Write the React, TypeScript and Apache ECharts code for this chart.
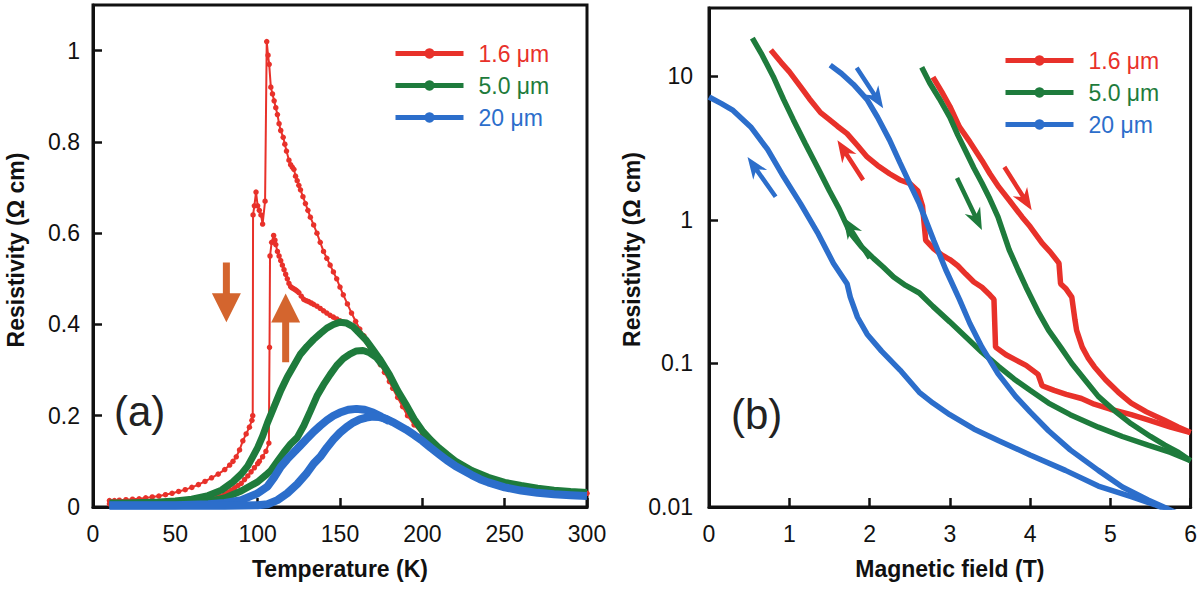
import React, { useEffect, useRef } from 'react';
import * as echarts from 'echarts';

const RED = '#e8312a';
const GREEN = '#1e7b3c';
const BLUE = '#2c6ecb';
const ORANGE = '#d4652e';
const FONT = '"Liberation Sans", Arial, Helvetica, sans-serif';

const NAMES = ['1.6 μm', '5.0 μm', '20 μm'];

// ---------- Panel (a): resistivity vs temperature ----------
const tRedCooling: number[][] = [
  [10, 0.014], [13, 0.014], [16, 0.015], [20, 0.016], [24, 0.017], [28, 0.018], [32, 0.02],
  [36, 0.022], [40, 0.024], [44, 0.027], [48, 0.03], [52, 0.034], [56, 0.038], [60, 0.043],
  [64, 0.049], [68, 0.056], [72, 0.064], [76, 0.072], [80, 0.082], [83, 0.092], [85, 0.1],
  [87, 0.11], [89, 0.125], [91, 0.145], [93, 0.16], [95, 0.175], [96.5, 0.19], [97, 0.2],
  [97.2, 0.64], [98, 0.66], [99, 0.69], [100, 0.66], [101, 0.65], [102, 0.64], [103, 0.62],
  [104.5, 0.67], [105.5, 1.02], [106.3, 0.99], [107, 0.97], [108, 0.92], [109, 0.905], [110, 0.89],
  [111, 0.875], [112, 0.86], [113, 0.84], [114, 0.825], [115.5, 0.81], [116.5, 0.795], [117.5, 0.78],
  [119, 0.76], [120, 0.75], [121, 0.745], [122, 0.74], [123, 0.725], [124, 0.715], [125, 0.705],
  [126, 0.695], [127.5, 0.68], [129, 0.665], [130.5, 0.65], [132, 0.635], [134, 0.618], [136, 0.6],
  [138, 0.58], [140, 0.56], [142, 0.545], [144, 0.53], [146, 0.515], [148, 0.5], [150, 0.482],
  [152, 0.465], [154.5, 0.445], [157, 0.425], [159.5, 0.407], [162, 0.39], [164.5, 0.375],
  [167, 0.36], [169.5, 0.345], [172, 0.33], [174.5, 0.312], [177, 0.295], [180, 0.275],
  [182, 0.26], [185, 0.24], [188, 0.22], [191, 0.2], [195, 0.18], [200, 0.16], [205, 0.14],
  [210, 0.122], [215, 0.105], [221, 0.088], [227, 0.074], [233, 0.064], [239, 0.055],
  [247, 0.048], [255, 0.043], [265, 0.038], [276, 0.034], [288, 0.032], [300, 0.03],
];
const tRedWarming: number[][] = [
  [10, 0.007], [15, 0.007], [20, 0.007], [25, 0.008], [30, 0.008], [35, 0.008], [40, 0.009],
  [45, 0.009], [50, 0.01], [55, 0.011], [60, 0.012], [63, 0.013], [66, 0.015], [69, 0.017],
  [72, 0.02], [75, 0.023], [77, 0.025], [80, 0.029], [82, 0.033], [84, 0.037], [86, 0.042],
  [88, 0.047], [90, 0.052], [92, 0.06], [94, 0.068], [96, 0.077], [98, 0.086], [100, 0.095],
  [101, 0.1], [103, 0.11], [105, 0.122], [106.8, 0.14], [107.2, 0.35], [107.5, 0.55],
  [108.5, 0.58], [109.7, 0.595], [110.5, 0.585], [111, 0.575], [112, 0.56], [113, 0.55],
  [114, 0.54], [115, 0.53], [116, 0.52], [117, 0.51], [118, 0.5], [119, 0.49], [120, 0.483],
  [121, 0.48], [122, 0.478], [123, 0.476], [124, 0.473], [125, 0.47], [126.5, 0.462], [128, 0.455],
  [129.5, 0.452], [131, 0.45], [132.5, 0.447], [134, 0.444], [136, 0.44], [138, 0.435],
  [140, 0.43], [142, 0.425], [144, 0.42], [146, 0.416], [148, 0.412], [150, 0.408], [152.5, 0.404],
  [155, 0.4], [157.5, 0.395], [160, 0.39], [162, 0.383], [164, 0.375], [166, 0.364], [168, 0.352],
  [170, 0.341], [172, 0.33],
];
const tGreenA: number[][] = [
  [10, 0.009], [20, 0.009], [30, 0.01], [40, 0.011], [50, 0.013], [60, 0.017], [70, 0.025],
  [78, 0.037], [85, 0.055], [90, 0.072], [94, 0.09], [97, 0.11], [100, 0.13], [103, 0.155],
  [106, 0.185], [110, 0.22], [114, 0.255], [118, 0.285], [122, 0.31], [126, 0.335], [130, 0.352],
  [134, 0.367], [138, 0.38], [142, 0.392], [146, 0.4], [150, 0.405], [154, 0.403], [158, 0.395],
  [162, 0.38], [166, 0.365], [170, 0.345], [174, 0.325], [180, 0.29], [185, 0.255], [190, 0.225],
  [195, 0.193], [200, 0.167], [205, 0.147], [210, 0.13], [215, 0.115], [220, 0.101], [230, 0.08],
  [240, 0.065], [250, 0.054], [260, 0.047], [270, 0.041], [280, 0.037], [290, 0.034], [300, 0.032],
];
const tGreenB: number[][] = [
  [10, 0.004], [30, 0.005], [50, 0.006], [60, 0.008], [70, 0.012], [80, 0.02], [90, 0.035],
  [100, 0.055], [105, 0.07], [108, 0.08], [112, 0.1], [116, 0.12], [120, 0.138], [124, 0.152],
  [128, 0.178], [132, 0.21], [136, 0.243], [140, 0.268], [144, 0.29], [148, 0.31], [152, 0.325],
  [156, 0.335], [160, 0.342], [164, 0.343], [168, 0.338], [172, 0.328], [176, 0.31],
];
const tBlueA: number[][] = [
  [10, 0.004], [30, 0.004], [50, 0.004], [70, 0.006], [80, 0.009], [90, 0.015], [100, 0.03],
  [106, 0.045], [110, 0.065], [114, 0.088], [118, 0.105], [122, 0.12], [126, 0.135], [130, 0.15],
  [134, 0.165], [138, 0.178], [142, 0.19], [146, 0.2], [150, 0.207], [155, 0.213], [160, 0.215],
  [165, 0.213], [170, 0.207], [175, 0.198], [180, 0.188],
];
const tBlueB: number[][] = [
  [10, 0.003], [50, 0.003], [80, 0.003], [100, 0.004], [106, 0.006], [112, 0.015], [118, 0.03],
  [124, 0.05], [130, 0.075], [134, 0.095], [138, 0.11], [142, 0.13], [146, 0.148], [150, 0.163],
  [154, 0.175], [158, 0.185], [162, 0.192], [166, 0.196], [170, 0.198], [174, 0.197], [178, 0.193],
  [182, 0.186], [186, 0.178], [190, 0.17], [195, 0.158], [200, 0.145], [205, 0.13], [210, 0.116],
  [215, 0.102], [220, 0.09], [225, 0.08], [230, 0.07], [235, 0.061], [240, 0.054], [250, 0.043],
  [260, 0.036], [270, 0.031], [280, 0.028], [290, 0.026], [300, 0.024],
];

// ---------- Panel (b): resistivity vs magnetic field ----------
const hRedDown: number[][] = [
  [0.77, 15.3], [0.9, 12.5], [1.0, 10.8], [1.14, 8.5], [1.25, 7.0], [1.39, 5.6], [1.5, 5.0],
  [1.6, 4.5], [1.72, 4.0], [1.85, 3.3], [1.97, 2.75], [2.1, 2.4], [2.25, 2.1], [2.38, 1.9],
  [2.5, 1.8], [2.6, 1.6], [2.66, 1.25], [2.7, 0.72], [2.8, 0.63], [2.9, 0.57], [3.0, 0.53],
  [3.1, 0.48], [3.2, 0.42], [3.3, 0.37], [3.4, 0.34], [3.5, 0.3], [3.55, 0.28], [3.57, 0.13],
  [3.7, 0.115], [3.82, 0.106], [3.95, 0.097], [4.1, 0.084], [4.15, 0.07], [4.3, 0.065],
  [4.45, 0.061], [4.64, 0.057], [4.8, 0.052], [5.0, 0.048], [5.26, 0.044], [5.5, 0.04],
  [5.75, 0.036], [6.0, 0.033],
];
const hRedUp: number[][] = [
  [2.79, 9.9], [2.9, 7.8], [3.0, 6.2], [3.12, 4.45], [3.25, 3.5], [3.4, 2.6], [3.5, 2.1],
  [3.61, 1.7], [3.75, 1.35], [3.9, 1.05], [4.0, 0.9], [4.15, 0.69], [4.25, 0.6], [4.36, 0.5],
  [4.38, 0.36], [4.45, 0.33], [4.52, 0.29], [4.56, 0.2], [4.58, 0.17], [4.65, 0.13], [4.72, 0.11],
  [4.8, 0.095], [4.94, 0.077], [5.1, 0.063], [5.26, 0.053], [5.45, 0.046], [5.68, 0.04],
  [5.85, 0.036], [6.0, 0.033],
];
const hGreenDown: number[][] = [
  [0.54, 18.5], [0.65, 14.5], [0.8, 10.0], [0.93, 6.9], [1.05, 5.0], [1.2, 3.4], [1.35, 2.34],
  [1.5, 1.6], [1.62, 1.2], [1.76, 0.81], [1.9, 0.65], [2.05, 0.54], [2.17, 0.47], [2.3, 0.4],
  [2.45, 0.35], [2.62, 0.31], [2.79, 0.25], [3.0, 0.195], [3.2, 0.153], [3.4, 0.12], [3.61, 0.095],
  [3.8, 0.078], [4.0, 0.065], [4.23, 0.053], [4.5, 0.044], [4.85, 0.036], [5.15, 0.031],
  [5.47, 0.027], [5.75, 0.024], [6.0, 0.021],
];
const hGreenUp: number[][] = [
  [2.65, 11.6], [2.75, 9.0], [2.87, 7.0], [3.0, 5.2], [3.1, 3.9], [3.2, 3.0], [3.3, 2.3],
  [3.4, 1.81], [3.5, 1.4], [3.6, 1.05], [3.74, 0.62], [3.85, 0.45], [3.95, 0.34], [4.1, 0.23],
  [4.23, 0.171], [4.38, 0.13], [4.52, 0.1], [4.7, 0.075], [4.85, 0.059], [5.05, 0.047],
  [5.26, 0.038], [5.5, 0.031], [5.68, 0.027], [5.85, 0.024], [6.0, 0.021],
];
const hBlueDown: number[][] = [
  [0, 7.2], [0.15, 6.5], [0.3, 5.8], [0.52, 4.45], [0.73, 3.1], [0.93, 2.0], [1.14, 1.3],
  [1.35, 0.82], [1.55, 0.5], [1.72, 0.36], [1.76, 0.29], [1.85, 0.21], [1.97, 0.16],
  [2.15, 0.122], [2.38, 0.09], [2.62, 0.063], [2.79, 0.053], [3.0, 0.044], [3.3, 0.035],
  [3.61, 0.029], [4.0, 0.023], [4.44, 0.018], [4.85, 0.014], [5.26, 0.0118], [5.55, 0.0104],
  [5.76, 0.0093],
];
const hBlueUp: number[][] = [
  [1.51, 12.0], [1.65, 10.5], [1.8, 8.8], [1.97, 6.9], [2.1, 5.2], [2.25, 3.6], [2.38, 2.5],
  [2.5, 1.8], [2.62, 1.3], [2.8, 0.72], [2.95, 0.45], [3.12, 0.28], [3.25, 0.19], [3.4, 0.13],
  [3.6, 0.085], [3.82, 0.059], [4.0, 0.046], [4.23, 0.034], [4.5, 0.025], [4.85, 0.018],
  [5.15, 0.0138], [5.47, 0.0112], [5.7, 0.0098], [5.84, 0.009],
];

// Annotation arrows (data coordinates)
const blockArrows: [number, number, number, number, number][] = [
  [0, 81, 0.536, 81, 0.405],
  [0, 117, 0.317, 117, 0.468],
];
const lineArrows: [number, number, number, number, number, string][] = [
  [1, 1.84, 11.5, 2.17, 6.0, BLUE],
  [1, 1.92, 1.9, 1.6, 3.6, RED],
  [1, 0.83, 1.45, 0.48, 2.75, BLUE],
  [1, 2.0, 0.54, 1.67, 1.05, GREEN],
  [1, 3.09, 1.96, 3.4, 0.85, GREEN],
  [1, 3.68, 2.34, 4.02, 1.17, RED],
];

function arrowPoints(p0: number[], p1: number[], sw: number, hl: number, hw: number, notch: number) {
  const dx = p1[0] - p0[0];
  const dy = p1[1] - p0[1];
  const len = Math.hypot(dx, dy);
  const ux = dx / len, uy = dy / len;
  const nx = -uy, ny = ux;
  const bx = p1[0] - ux * hl, by = p1[1] - uy * hl;
  const sx = bx + ux * notch, sy = by + uy * notch;
  return [
    [p0[0] + nx * sw / 2, p0[1] + ny * sw / 2],
    [sx + nx * sw / 2, sy + ny * sw / 2],
    [bx + nx * hw / 2, by + ny * hw / 2],
    [p1[0], p1[1]],
    [bx - nx * hw / 2, by - ny * hw / 2],
    [sx - nx * sw / 2, sy - ny * sw / 2],
    [p0[0] - nx * sw / 2, p0[1] - ny * sw / 2],
  ];
}

function mkSeries(name: string, data: number[][], color: string, panel: number, width: number, dots = false, z = 2) {
  return {
    type: 'line',
    name,
    data,
    xAxisIndex: panel,
    yAxisIndex: panel,
    symbol: 'circle',
    showSymbol: dots,
    symbolSize: 5.5,
    color,
    z,
    lineStyle: { width, color },
    itemStyle: { color, borderWidth: 0 },
    silent: true,
  };
}

const axisCommon = {
  axisLine: { show: true, lineStyle: { color: '#111', width: 3 } },
  axisTick: { show: true, inside: true, length: 9, lineStyle: { color: '#111', width: 2.5 } },
  splitLine: { show: false },
  axisLabel: { color: '#111', fontSize: 23, fontFamily: FONT },
  nameTextStyle: { color: '#111', fontSize: 23, fontWeight: 'bold', fontFamily: FONT },
  nameLocation: 'middle',
};

function legendCfg(left: number, top: number) {
  return {
    orient: 'vertical',
    left,
    top,
    itemWidth: 68,
    itemHeight: 13,
    itemGap: 9,
    selectedMode: false,
    lineStyle: { width: 5 },
    itemStyle: { borderWidth: 0 },
    textStyle: { fontSize: 23, fontFamily: FONT, padding: [0, 0, 0, 10] },
    data: NAMES.map((n, i) => ({ name: n, textStyle: { color: [RED, GREEN, BLUE][i] } })),
  };
}

export default function App() {
  const ref = useRef<HTMLDivElement>(null);
  useEffect(() => {
    document.body.style.margin = '0';
    const chart = echarts.init(ref.current!, null, { renderer: 'svg' });
    const option: any = {
      animation: false,
      backgroundColor: '#ffffff',
      grid: [
        { left: 93, top: 5, width: 494, height: 502, show: true, borderColor: '#111', borderWidth: 3 },
        { left: 709, top: 8, width: 484, height: 499, show: true, borderColor: '#111', borderWidth: 3 },
      ],
      xAxis: [
        {
          ...axisCommon, gridIndex: 0, type: 'value', min: 0, max: 300, interval: 50,
          name: 'Temperature (K)', nameGap: 50,
          axisLabel: { ...axisCommon.axisLabel, margin: 15 },
        },
        {
          ...axisCommon, gridIndex: 1, type: 'value', min: 0, max: 6, interval: 1,
          name: 'Magnetic field (T)', nameGap: 50,
          axisLabel: { ...axisCommon.axisLabel, margin: 15 },
        },
      ],
      yAxis: [
        {
          ...axisCommon, gridIndex: 0, type: 'value', min: 0, max: 1.1, interval: 0.2,
          name: 'Resistivity (Ω cm)', nameGap: 66,
          nameTextStyle: { ...axisCommon.nameTextStyle, padding: [0, 0, 0, 12] },
          axisLabel: { ...axisCommon.axisLabel, margin: 13, showMaxLabel: false },
        },
        {
          ...axisCommon, gridIndex: 1, type: 'log', logBase: 10, min: 0.01, max: 30,
          name: 'Resistivity (Ω cm)', nameGap: 66,
          nameTextStyle: { ...axisCommon.nameTextStyle, padding: [0, 0, 0, 16] },
          axisLabel: {
            ...axisCommon.axisLabel, margin: 16, showMaxLabel: false,
            formatter: (v: number) => {
              const r = Number(Number(v).toPrecision(3));
              return [0.01, 0.1, 1, 10].indexOf(r) >= 0 ? String(r) : '';
            },
          },
        },
      ],
      legend: [legendCfg(388, 37), legendCfg(998, 44)],
      series: [
        mkSeries(NAMES[0], tRedCooling, RED, 0, 2, true, 1),
        mkSeries(NAMES[0], tRedWarming, RED, 0, 2, true, 1),
        mkSeries(NAMES[1], tGreenA, GREEN, 0, 7),
        mkSeries(NAMES[1], tGreenB, GREEN, 0, 7),
        mkSeries(NAMES[2], tBlueA, BLUE, 0, 8),
        mkSeries(NAMES[2], tBlueB, BLUE, 0, 8),
        mkSeries(NAMES[0], hRedDown, RED, 1, 5.5),
        mkSeries(NAMES[0], hRedUp, RED, 1, 5.5),
        mkSeries(NAMES[1], hGreenDown, GREEN, 1, 5.5),
        mkSeries(NAMES[1], hGreenUp, GREEN, 1, 5.5),
        mkSeries(NAMES[2], hBlueDown, BLUE, 1, 5.5),
        mkSeries(NAMES[2], hBlueUp, BLUE, 1, 5.5),
      ],
    };
    chart.setOption(option);

    const graphics: any[] = [];
    blockArrows.forEach(([g, x0, y0, x1, y1]) => {
      const p0 = chart.convertToPixel({ gridIndex: g }, [x0, y0]) as number[];
      const p1 = chart.convertToPixel({ gridIndex: g }, [x1, y1]) as number[];
      graphics.push({
        type: 'polygon', silent: true, z: 10,
        shape: { points: arrowPoints(p0, p1, 7, 29, 29, 0) },
        style: { fill: ORANGE },
      });
    });
    lineArrows.forEach(([g, x0, y0, x1, y1, c]) => {
      const p0 = chart.convertToPixel({ gridIndex: g }, [x0, y0]) as number[];
      const p1 = chart.convertToPixel({ gridIndex: g }, [x1, y1]) as number[];
      graphics.push({
        type: 'polygon', silent: true, z: 10,
        shape: { points: arrowPoints(p0, p1, 4.5, 22, 17, 5) },
        style: { fill: c },
      });
    });
    graphics.push(
      { type: 'text', left: 114, top: 390, silent: true, style: { text: '(a)', fontSize: 42, fontFamily: FONT, fill: '#222' } },
      { type: 'text', left: 731, top: 393, silent: true, style: { text: '(b)', fontSize: 42, fontFamily: FONT, fill: '#222' } },
    );
    chart.setOption({ graphic: graphics });
    return () => chart.dispose();
  }, []);
  return <div ref={ref} style={{ position: 'absolute', left: 0, top: 0, width: 1200, height: 590 }} />;
}
